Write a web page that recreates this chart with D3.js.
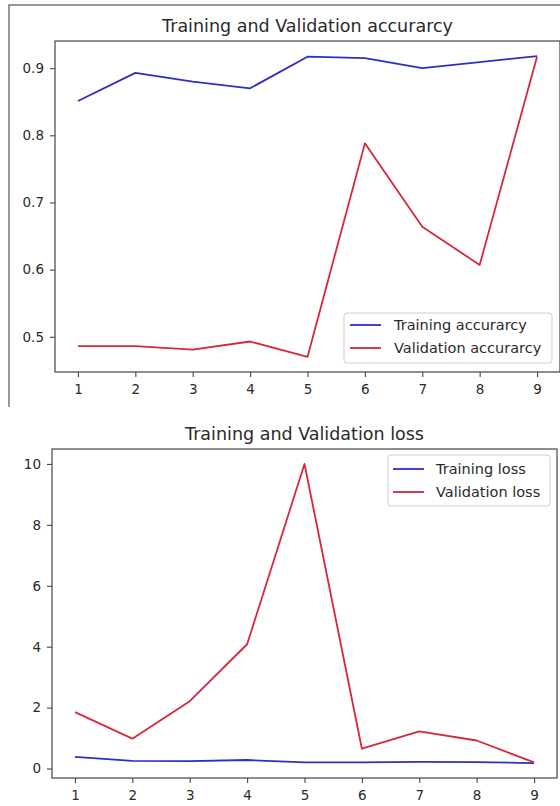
<!DOCTYPE html>
<html>
<head>
<meta charset="utf-8">
<script src="https://cdn.jsdelivr.net/npm/d3@7/dist/d3.min.js"></script>
<style>
  html, body { margin: 0; padding: 0; background: #fff; }
  svg { display: block; }
  text { font-family: "DejaVu Sans", sans-serif; fill: #2a2a2a; }
</style>
</head>
<body>
<svg id="chart" width="560" height="806"></svg>
<script>
const epochs = [1, 2, 3, 4, 5, 6, 7, 8, 9];
const trainAcc = [0.851, 0.893, 0.880, 0.870, 0.917, 0.915, 0.900, 0.909, 0.918];
const valAcc = [0.486, 0.486, 0.481, 0.493, 0.470, 0.788, 0.664, 0.607, 0.917];
const trainLoss = [0.38, 0.25, 0.24, 0.28, 0.20, 0.20, 0.22, 0.21, 0.18];
const valLoss = [1.85, 0.98, 2.21, 4.08, 10.0, 0.65, 1.22, 0.92, 0.20];
const accTicks = [0.5, 0.6, 0.7, 0.8, 0.9];
const lossTicks = [0, 2, 4, 6, 8, 10];
const xTicks = [1, 2, 3, 4, 5, 6, 7, 8, 9];

const BLUE = "#2e2ec4";
const RED = "#d6283a";

const svg = d3.select("#chart");

// screenshot frame around the top figure
svg.append("path")
  .attr("d", "M9,407 L9,5 L560,5")
  .attr("fill", "none").attr("stroke", "#777").attr("stroke-width", 1.5);

function padDomain(arrs) {
  const all = arrs.flat();
  const lo = d3.min(all), hi = d3.max(all);
  const m = (hi - lo) * 0.05;
  return [lo - m, hi + m];
}

function panel(cfg) {
  const g = svg.append("g");
  const x = d3.scaleLinear().domain([0.6, 9.4]).range([cfg.left, cfg.right]);
  const y = d3.scaleLinear().domain(padDomain(cfg.series.map(s => s.values))).range([cfg.bottom, cfg.top]);

  // axes
  const xa = g.append("g").attr("transform", `translate(0,${cfg.bottom})`)
    .call(d3.axisBottom(x).tickValues(xTicks).tickFormat(d3.format("d")).tickSize(5).tickPadding(7));
  const ya = g.append("g").attr("transform", `translate(${cfg.left},0)`)
    .call(d3.axisLeft(y).tickValues(cfg.yTicks).tickFormat(cfg.yFormat).tickSize(5).tickPadding(6));
  [xa, ya].forEach(a => {
    a.select(".domain").remove();
    a.selectAll("line").attr("stroke", "#444").attr("stroke-width", 1.1);
    a.selectAll("text").attr("font-size", 13.5).attr("fill", "#2a2a2a")
      .attr("font-family", "DejaVu Sans, sans-serif");
  });

  // spines
  g.append("rect")
    .attr("x", cfg.left).attr("y", cfg.top)
    .attr("width", cfg.right - cfg.left).attr("height", cfg.bottom - cfg.top)
    .attr("fill", "none").attr("stroke", "#444").attr("stroke-width", 1.2);

  // lines
  const line = d3.line().x((d, i) => x(epochs[i])).y(d => y(d));
  cfg.series.forEach(s => {
    g.append("path").datum(s.values)
      .attr("d", line)
      .attr("fill", "none").attr("stroke", s.color)
      .attr("stroke-width", 1.8).attr("stroke-linejoin", "round");
  });

  // title
  g.append("text")
    .attr("x", (cfg.left + cfg.right) / 2).attr("y", cfg.top - 9)
    .attr("text-anchor", "middle").attr("font-size", 17.5)
    .text(cfg.title);

  // legend
  const L = cfg.legend;
  g.append("rect")
    .attr("x", L.x).attr("y", L.y).attr("width", L.w).attr("height", L.h)
    .attr("rx", 3).attr("fill", "#fff").attr("fill-opacity", 0.8)
    .attr("stroke", "#d0d0d0").attr("stroke-width", 1);
  cfg.series.forEach((s, i) => {
    const yy = L.y + L.first + i * L.step;
    g.append("line")
      .attr("x1", L.x + L.lx1).attr("x2", L.x + L.lx2)
      .attr("y1", yy).attr("y2", yy)
      .attr("stroke", s.color).attr("stroke-width", 1.8);
    g.append("text")
      .attr("x", L.x + L.tx).attr("y", yy).attr("dy", "0.36em")
      .attr("font-size", 14.5).text(s.name);
  });
}

panel({
  left: 55, right: 560, top: 41, bottom: 372,
  title: "Training and Validation accurarcy",
  yTicks: accTicks, yFormat: d3.format(".1f"),
  series: [
    { name: "Training accurarcy", values: trainAcc, color: BLUE },
    { name: "Validation accurarcy", values: valAcc, color: RED }
  ],
  legend: { x: 344, y: 313, w: 208, h: 50, first: 12, step: 23, lx1: 6, lx2: 37, tx: 50 }
});

panel({
  left: 52, right: 557, top: 449, bottom: 778,
  title: "Training and Validation loss",
  yTicks: lossTicks, yFormat: d3.format("d"),
  series: [
    { name: "Training loss", values: trainLoss, color: BLUE },
    { name: "Validation loss", values: valLoss, color: RED }
  ],
  legend: { x: 388, y: 455, w: 162, h: 51, first: 14, step: 23, lx1: 5, lx2: 36, tx: 48 }
});
</script>
</body>
</html>
